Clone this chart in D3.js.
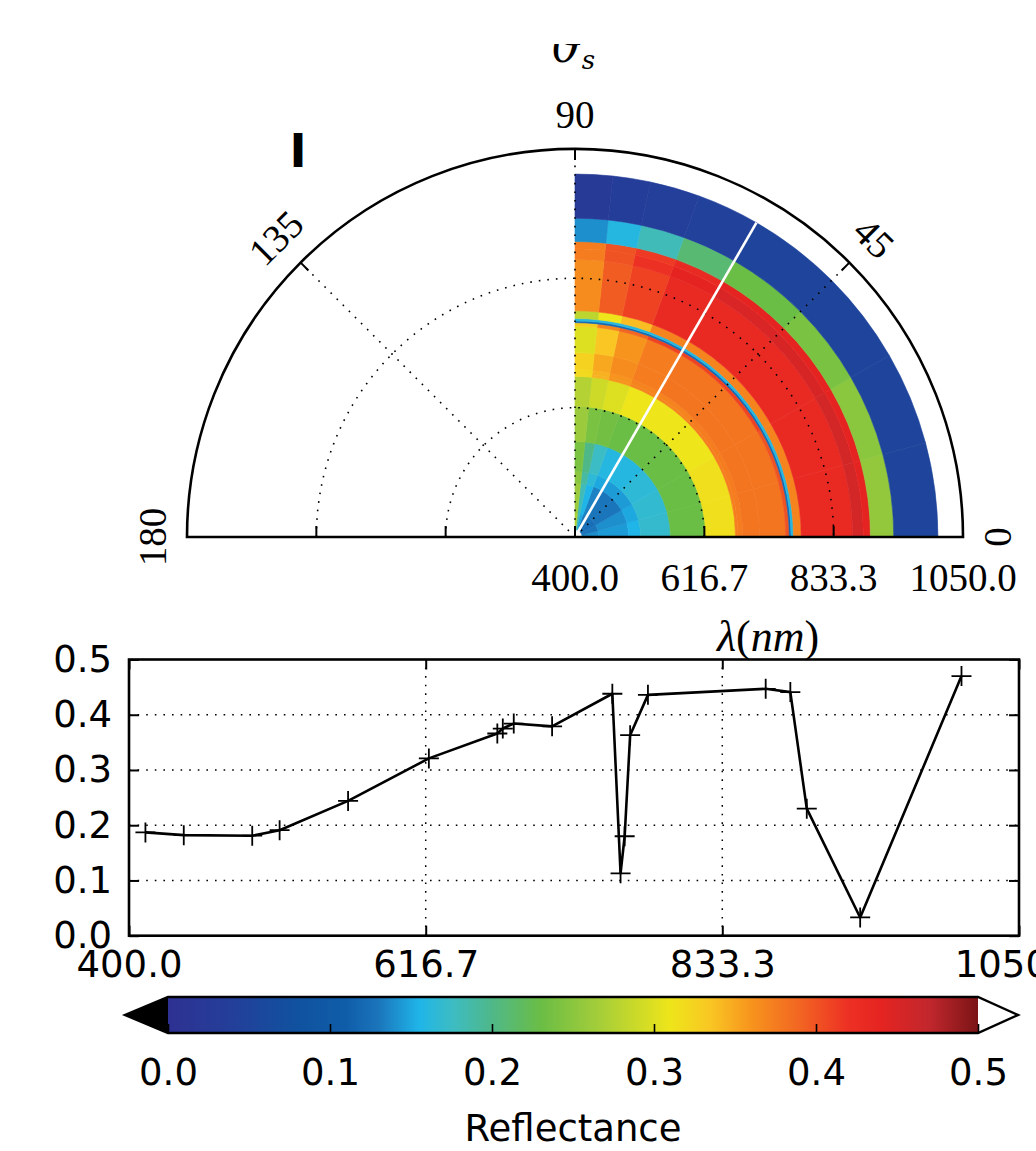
<!DOCTYPE html>
<html>
<head>
    <meta charset="UTF-8">
    <title>Reflectance - polar and spectrum</title>
    <script src="https://d3js.org/d3.v7.min.js"></script>
    <style>
        body { margin: 0; background: #fff; }
        svg { display: block; }
    </style>
</head>
<body>
    <svg width="1036" height="1151"></svg>
<script>
    // sampled wavelengths (nm) and reflectance along the white line (theta_s = 60)
    var wavelengths = [412, 440, 490, 510, 560, 619, 669, 673, 681, 709, 753, 759, 762, 766, 779, 865, 883, 895, 934, 1008];
    var reflectance = [0.187, 0.182, 0.181, 0.191, 0.244, 0.321, 0.366, 0.375, 0.384, 0.379, 0.438, 0.113, 0.180, 0.363, 0.436, 0.447, 0.441, 0.230, 0.033, 0.470];

    // polar map: angle sectors (deg) and one row per band [wavelengths[i], wavelengths[i+1]]
    var sectorEdges = [0, 15, 30, 45, 60, 70, 78, 84, 90];
    var polarValues = [
        [0.140, 0.130, 0.125, 0.125, 0.130, 0.150, 0.180, 0.270],
        [0.145, 0.140, 0.130, 0.130, 0.135, 0.155, 0.180, 0.260],
        [0.155, 0.150, 0.145, 0.145, 0.150, 0.165, 0.190, 0.250],
        [0.170, 0.168, 0.165, 0.160, 0.160, 0.175, 0.200, 0.240],
        [0.230, 0.230, 0.230, 0.230, 0.230, 0.235, 0.240, 0.260],
        [0.315, 0.315, 0.310, 0.310, 0.310, 0.300, 0.290, 0.275],
        [0.375, 0.375, 0.375, 0.370, 0.370, 0.360, 0.345, 0.320],
        [0.375, 0.375, 0.375, 0.370, 0.370, 0.360, 0.345, 0.320],
        [0.380, 0.380, 0.380, 0.380, 0.375, 0.365, 0.350, 0.325],
        [0.380, 0.380, 0.380, 0.380, 0.375, 0.360, 0.335, 0.300],
        [0.400, 0.400, 0.410, 0.410, 0.410, 0.390, 0.370, 0.330],
        [0.120, 0.120, 0.120, 0.120, 0.120, 0.120, 0.120, 0.120],
        [0.160, 0.160, 0.160, 0.160, 0.160, 0.160, 0.160, 0.160],
        [0.370, 0.370, 0.370, 0.370, 0.370, 0.340, 0.310, 0.280],
        [0.430, 0.430, 0.430, 0.430, 0.430, 0.410, 0.395, 0.365],
        [0.455, 0.455, 0.452, 0.450, 0.440, 0.420, 0.400, 0.375],
        [0.440, 0.440, 0.440, 0.440, 0.430, 0.415, 0.400, 0.375],
        [0.255, 0.250, 0.240, 0.230, 0.210, 0.180, 0.160, 0.140],
        [0.050, 0.050, 0.050, 0.050, 0.045, 0.040, 0.035, 0.025]
    ];
    var selectedAngle = 60;

    var radialTicks = [400.0, 616.7, 833.3, 1050.0];
    var angleTicks = [0, 45, 90, 135, 180];
    var reflTicks = [0.0, 0.1, 0.2, 0.3, 0.4, 0.5];

    // jet-like colour map as printed
    var cmapValues = [0.00, 0.04, 0.08, 0.11, 0.13, 0.155, 0.175, 0.20, 0.23, 0.265, 0.31, 0.335, 0.36, 0.39, 0.42, 0.44, 0.47, 0.50];
    var cmapColors = ['#2e3192', '#233f99', '#10529f', '#0f5da9', '#1b75bb', '#1fb5e9', '#3cbcc4', '#4fb889', '#6abd45', '#a3cd3a',
                      '#eee51a', '#f9c623', '#f7941d', '#f26522', '#ed3024', '#e52421', '#c1272d', '#7b1416'];
    var color = d3.scaleLinear().domain(cmapValues).range(cmapColors).clamp(true);

    var svg = d3.select("svg");
    var fmt1 = d3.format(".1f");

    // ---------------- polar plot ----------------
    var cx = 575, cy = 537, R = 388;
    var rScale = d3.scaleLinear().domain([400, 1050]).range([0, R]);
    var toRad = function(deg) { return (90 - deg) * Math.PI / 180; };   // d3.arc angle
    var px = function(r, deg) { return cx + r * Math.cos(deg * Math.PI / 180); };
    var py = function(r, deg) { return cy - r * Math.sin(deg * Math.PI / 180); };

    var polar = svg.append("g");
    var arc = d3.arc();
    var cells = [];
    polarValues.forEach(function(row, i) {
        row.forEach(function(v, s) {
            cells.push({ r0: rScale(wavelengths[i]), r1: rScale(wavelengths[i + 1]), a0: sectorEdges[s], a1: sectorEdges[s + 1], v: v });
        });
    });
    polar.append("g")
        .attr("transform", "translate(" + cx + "," + cy + ")")
        .selectAll("path")
        .data(cells)
        .enter().append("path")
        .attr("d", function(d) {
            return arc({ innerRadius: d.r0, outerRadius: d.r1, startAngle: toRad(d.a1), endAngle: toRad(d.a0) });
        })
        .attr("fill", function(d) { return color(d.v); })
        .attr("stroke", function(d) { return color(d.v); })
        .attr("stroke-width", 0.6);

    // dotted grid
    var grid = polar.append("g")
        .attr("fill", "none")
        .attr("stroke", "#000")
        .attr("stroke-width", 1.6)
        .attr("stroke-dasharray", "1.6,7");
    radialTicks.slice(1, 3).forEach(function(t) {
        var p = d3.path();
        p.arc(cx, cy, rScale(t), Math.PI, 2 * Math.PI);
        grid.append("path").attr("d", p.toString());
    });
    [45, 90, 135].forEach(function(a) {
        grid.append("line")
            .attr("x1", cx).attr("y1", cy)
            .attr("x2", px(R, a)).attr("y2", py(R, a));
    });

    // selected angle
    polar.append("line")
        .attr("x1", cx).attr("y1", cy)
        .attr("x2", px(rScale(wavelengths[wavelengths.length - 1]), selectedAngle))
        .attr("y2", py(rScale(wavelengths[wavelengths.length - 1]), selectedAngle))
        .attr("stroke", "#fff")
        .attr("stroke-width", 2.6);

    // frame
    var outer = d3.path();
    outer.arc(cx, cy, R, Math.PI, 2 * Math.PI);
    outer.closePath();
    polar.append("path")
        .attr("d", outer.toString())
        .attr("fill", "none")
        .attr("stroke", "#000")
        .attr("stroke-width", 2.6);

    // ticks
    [45, 90, 135].forEach(function(a) {
        polar.append("line")
            .attr("x1", px(R, a)).attr("y1", py(R, a))
            .attr("x2", px(R - 11, a)).attr("y2", py(R - 11, a))
            .attr("stroke", "#000").attr("stroke-width", 2);
    });
    radialTicks.slice(0, 3).forEach(function(t) {
        [0, 180].forEach(function(a) {
            polar.append("line")
                .attr("x1", px(rScale(t), a)).attr("y1", cy)
                .attr("x2", px(rScale(t), a)).attr("y2", cy - 11)
                .attr("stroke", "#000").attr("stroke-width", 2);
        });
    });

    // angle labels
    polar.selectAll(".alabel")
        .data(angleTicks)
        .enter().append("text")
        .attr("class", "alabel")
        .attr("transform", function(d) {
            return "translate(" + px(423, d) + "," + py(423, d) + ") rotate(" + (90 - d) + ")";
        })
        .attr("text-anchor", "middle")
        .attr("dominant-baseline", "central")
        .attr("font-family", "Liberation Serif, serif")
        .attr("font-size", 39)
        .text(function(d) { return d; });

    // radial labels
    polar.selectAll(".rlabel")
        .data(radialTicks)
        .enter().append("text")
        .attr("class", "rlabel")
        .attr("x", function(d) { return px(rScale(d), 0); })
        .attr("y", 591)
        .attr("text-anchor", "middle")
        .attr("font-family", "Liberation Serif, serif")
        .attr("font-size", 39)
        .text(function(d) { return fmt1(d); });

    // lambda label
    var lam = svg.append("text")
        .attr("x", 768).attr("y", 651)
        .attr("text-anchor", "middle")
        .attr("font-family", "Liberation Serif, serif")
        .attr("font-style", "italic")
        .attr("font-size", 44);
    lam.append("tspan").text("\u03bb");
    lam.append("tspan").attr("font-style", "normal").text("(");
    lam.append("tspan").text("nm");
    lam.append("tspan").attr("font-style", "normal").text(")");

    // theta_s label (top clipped in the figure)
    svg.append("clipPath").attr("id", "topclip")
        .append("rect").attr("x", 0).attr("y", 44).attr("width", 1036).attr("height", 100);
    var th = svg.append("text")
        .attr("clip-path", "url(#topclip)")
        .attr("x", 572).attr("y", 62)
        .attr("text-anchor", "middle")
        .attr("font-family", "DejaVu Serif, serif")
        .attr("font-style", "italic")
        .attr("font-size", 46);
    th.append("tspan").text("\u03d1");
    th.append("tspan").attr("font-size", 26).attr("dy", 7).text("s");

    // panel letter
    svg.append("text")
        .attr("x", 298).attr("y", 167)
        .attr("text-anchor", "middle")
        .attr("font-family", "DejaVu Sans, sans-serif")
        .attr("font-weight", "bold")
        .attr("font-size", 46)
        .text("I");

    // ---------------- spectrum ----------------
    var x0 = 129, x1 = 1019, y0 = 935.7, y1 = 659.5;
    var x = d3.scaleLinear().domain([400, 1050]).range([x0, x1]);
    var y = d3.scaleLinear().domain([0, 0.5]).range([y0, y1]);
    var chart = svg.append("g");

    // grid
    var cg = chart.append("g")
        .attr("stroke", "#000")
        .attr("stroke-width", 1.5)
        .attr("stroke-dasharray", "1.6,7");
    reflTicks.slice(1, 5).forEach(function(t) {
        cg.append("line").attr("x1", x0).attr("x2", x1).attr("y1", y(t)).attr("y2", y(t));
    });
    radialTicks.slice(1, 3).forEach(function(t) {
        cg.append("line").attr("x1", x(t)).attr("x2", x(t)).attr("y1", y0).attr("y2", y1);
    });

    // axes with inward ticks
    chart.append("g")
        .attr("transform", "translate(" + x0 + ",0)")
        .call(d3.axisLeft(y).tickValues(reflTicks).tickFormat(fmt1).tickSize(-10).tickPadding(17));
    chart.append("g")
        .attr("transform", "translate(" + x1 + ",0)")
        .call(d3.axisRight(y).tickValues(reflTicks).tickFormat("").tickSize(-10));
    chart.append("g")
        .attr("transform", "translate(0," + y0 + ")")
        .call(d3.axisBottom(x).tickValues(radialTicks).tickFormat(fmt1).tickSize(-10).tickPadding(15));
    chart.append("g")
        .attr("transform", "translate(0," + y1 + ")")
        .call(d3.axisTop(x).tickValues(radialTicks).tickFormat("").tickSize(-10));
    chart.selectAll(".domain").remove();
    chart.selectAll(".tick line").attr("stroke", "#000").attr("stroke-width", 2);
    chart.selectAll(".tick text")
        .attr("font-family", "DejaVu Sans, sans-serif")
        .attr("font-size", 37)
        .attr("fill", "#000");

    chart.append("rect")
        .attr("x", x0).attr("y", y1)
        .attr("width", x1 - x0).attr("height", y0 - y1)
        .attr("fill", "none")
        .attr("stroke", "#000")
        .attr("stroke-width", 2.6);

    var pts = wavelengths.map(function(w, i) { return [w, reflectance[i]]; });
    chart.append("path")
        .datum(pts)
        .attr("d", d3.line().x(function(d) { return x(d[0]); }).y(function(d) { return y(d[1]); }))
        .attr("fill", "none")
        .attr("stroke", "#000")
        .attr("stroke-width", 2.6)
        .attr("stroke-linejoin", "round");
    chart.selectAll(".mk")
        .data(pts)
        .enter().append("path")
        .attr("class", "mk")
        .attr("transform", function(d) { return "translate(" + x(d[0]) + "," + y(d[1]) + ")"; })
        .attr("d", "M-10,0H10M0,-10V10")
        .attr("stroke", "#000")
        .attr("stroke-width", 1.8);

    // ---------------- colour bar ----------------
    var cbx = d3.scaleLinear().domain([0, 0.5]).range([168, 978]);
    var cbTop = 997, cbBot = 1033, cbMid = (cbTop + cbBot) / 2;
    var grad = svg.append("defs").append("linearGradient")
        .attr("id", "cbgrad")
        .attr("x1", "0%").attr("x2", "100%").attr("y1", "0%").attr("y2", "0%");
    cmapValues.forEach(function(v, i) {
        grad.append("stop").attr("offset", (v / 0.5 * 100) + "%").attr("stop-color", cmapColors[i]);
    });
    var cb = svg.append("g");
    cb.append("rect")
        .attr("x", cbx(0)).attr("y", cbTop)
        .attr("width", cbx(0.5) - cbx(0)).attr("height", cbBot - cbTop)
        .attr("fill", "url(#cbgrad)");
    cb.append("path")
        .attr("d", "M" + cbx(0) + "," + cbTop + "L125," + cbMid + "L" + cbx(0) + "," + cbBot + "Z")
        .attr("fill", "#000");
    cb.append("path")
        .attr("d", "M" + cbx(0.5) + "," + cbTop + "L1018," + cbMid + "L" + cbx(0.5) + "," + cbBot + "Z")
        .attr("fill", "#fff");
    cb.append("path")
        .attr("d", "M" + cbx(0) + "," + cbTop + "H" + cbx(0.5) + "L1018," + cbMid + "L" + cbx(0.5) + "," + cbBot +
                   "H" + cbx(0) + "L125," + cbMid + "Z")
        .attr("fill", "none")
        .attr("stroke", "#000")
        .attr("stroke-width", 2.4);
    cb.append("g")
        .attr("transform", "translate(0," + cbBot + ")")
        .call(d3.axisBottom(cbx).tickValues(reflTicks).tickFormat(fmt1).tickSize(-9).tickPadding(26))
        .call(function(g) { g.select(".domain").remove(); })
        .call(function(g) {
            g.selectAll(".tick line").attr("stroke", "#000").attr("stroke-width", 1.6);
            g.selectAll(".tick text")
                .attr("font-family", "DejaVu Sans, sans-serif")
                .attr("font-size", 37)
                .attr("fill", "#000");
        });
    cb.append("text")
        .attr("x", 573).attr("y", 1141)
        .attr("text-anchor", "middle")
        .attr("font-family", "DejaVu Sans, sans-serif")
        .attr("font-size", 37)
        .text("Reflectance");
</script>
</body>
</html>
